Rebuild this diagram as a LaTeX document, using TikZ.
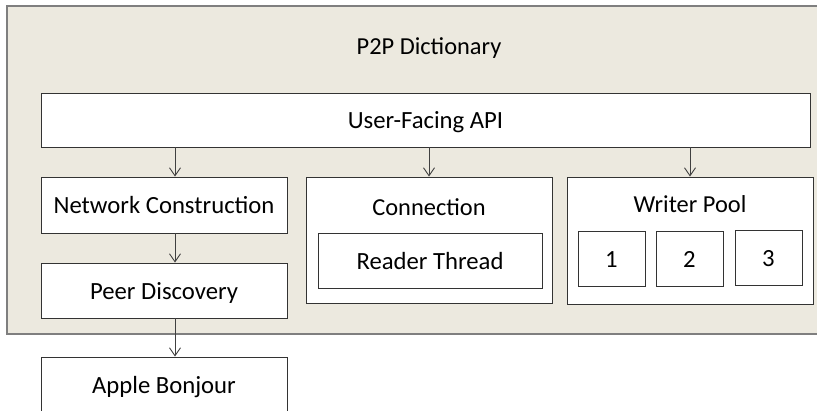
\documentclass[tikz,border=0pt]{standalone}
\usepackage{fontspec}
\setmainfont{Carlito}
\usetikzlibrary{arrows.meta}
\definecolor{panel}{HTML}{ECE9DF}
\definecolor{panelline}{HTML}{7F7F7F}
\definecolor{boxline}{HTML}{333333}
\definecolor{arrowline}{HTML}{404040}
\tikzset{
  box/.style={draw=boxline, line width=0.9pt, fill=white, rectangle,
    inner sep=0pt, text height=18pt, text depth=0pt,
    font=\fontsize{24.7}{29}\selectfont},
  caption/.style={inner sep=0pt, text height=18pt, text depth=0pt,
    font=\fontsize{24.4}{29}\selectfont},
  arr/.style={draw=arrowline, line width=0.9pt,
    -{Straight Barb[length=8pt,width=11pt,line width=0.9pt]}}
}
\begin{document}
\begin{tikzpicture}[x=1pt,y=-1pt]
\useasboundingbox (0,0) rectangle (817,411);
\clip (0,0) rectangle (817,411);
% outer panel, running off the right edge
\draw[draw=panelline, line width=1.6pt, fill=panel] (7,6) rectangle (840,334);
\node[caption] (title) at (429,46) {P2P Dictionary};
% layers
\node[box, minimum width=769pt, minimum height=54pt] (api) at (425.5,120) {User-Facing API};
\node[box, minimum width=246pt, minimum height=56pt] (net) at (164,205) {Network Construction};
\node[box, minimum width=246pt, minimum height=55pt] (peer) at (164,290.5) {Peer Discovery};
\node[box, minimum width=246pt, minimum height=56pt] (bonjour) at (164,385) {Apple Bonjour};
% connection with its reader thread
\node[box, minimum width=246pt, minimum height=126pt] (conn) at (429,240) {};
\node[caption] (connlbl) at (429,207) {Connection};
\node[box, minimum width=224pt, minimum height=55pt] (reader) at (430,260.5) {Reader Thread};
% writer pool with three writers
\node[box, minimum width=246pt, minimum height=127pt] (pool) at (690,240.5) {};
\node[caption] (poollbl) at (690,204) {Writer Pool};
\node[box, minimum width=67pt, minimum height=55pt] (w1) at (611.5,258.5) {1};
\node[box, minimum width=67pt, minimum height=55pt] (w2) at (689.5,258.5) {2};
\node[box, minimum width=67pt, minimum height=55pt] (w3) at (768.5,258) {3};
% connectors
\draw[arr] ([xshift=11pt]api.south -| net.north) -- ([xshift=11pt]net.north);
\draw[arr] (api.south -| conn.north) -- (conn.north);
\draw[arr] (api.south -| pool.north) -- (pool.north);
\draw[arr] ([xshift=11pt]net.south) -- ([xshift=11pt]peer.north);
\draw[arr] ([xshift=11pt]peer.south) -- ([xshift=11pt]bonjour.north);
\end{tikzpicture}
\end{document}
